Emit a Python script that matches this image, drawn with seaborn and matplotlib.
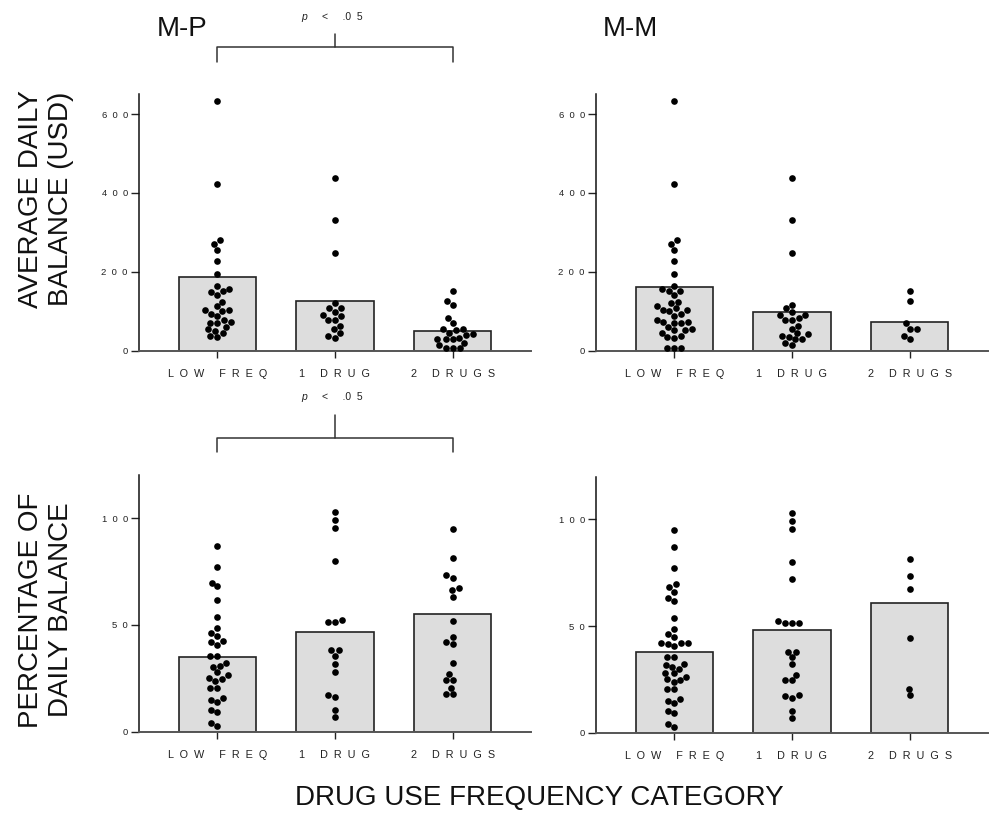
import matplotlib
matplotlib.use("Agg")
import matplotlib.pyplot as plt
from matplotlib.lines import Line2D
from matplotlib.transforms import offset_copy
import pandas as pd
import seaborn as sns

# categories on the x axis
categories = ["LOW FREQ", "1 DRUG", "2 DRUGS"]

# M-P, average daily balance (USD)
mp_bal_low = [632, 422, 281, 271, 256, 228, 195, 163, 156, 151, 149, 140, 124, 113,
              103, 101, 103, 94, 88, 79, 72, 71, 71, 61, 54, 51, 46, 38, 35]
mp_bal_one = [438, 331, 247, 121, 108, 108, 99, 89, 91, 79, 79, 62, 54, 45, 37, 33]
mp_bal_two = [151, 126, 116, 83, 70, 55, 52, 54, 45, 41, 39, 33, 30, 30, 30, 20, 14, 8, 8, 8]
mp_bal_bars = [187, 125, 49]

# M-M, average daily balance (USD)
mm_bal_low = [632, 422, 281, 271, 256, 228, 195, 163, 156, 151, 151, 140, 123, 120, 113,
              103, 100, 103, 107, 94, 88, 79, 72, 69, 71, 73, 60, 55, 52, 46, 52, 38,
              35, 33, 8, 8, 8]
mm_bal_one = [438, 331, 247, 116, 107, 99, 90, 84, 90, 79, 78, 62, 54, 45, 41, 37, 35,
              29, 30, 19, 14]
mm_bal_two = [151, 126, 69, 54, 54, 38, 29]
mm_bal_bars = [161, 97, 73]

# M-P, percentage of daily balance
mp_pct_low = [87.1, 77.1, 69.7, 68.0, 61.8, 53.8, 48.7, 46.0, 44.6, 42.3, 41.8, 40.6,
              35.6, 35.6, 32.1, 30.9, 30.3, 27.9, 26.4, 25.1, 24.6, 23.6, 20.6, 20.6,
              15.8, 14.8, 13.9, 10.0, 9.4, 4.2, 2.8]
mp_pct_one = [102.8, 99.1, 95.5, 79.7, 52.4, 51.5, 51.3, 38.2, 38.1, 35.6, 31.7, 27.8,
              17.2, 16.4, 10.1, 6.9]
mp_pct_two = [94.9, 81.3, 73.3, 72.1, 67.1, 66.3, 63.2, 51.6, 44.5, 41.8, 41.0, 32.3,
              27.0, 24.3, 24.3, 20.6, 17.6, 17.6]
mp_pct_bars = [34.8, 46.8, 55.1]

# M-M, percentage of daily balance
mm_pct_low = [95.0, 86.9, 77.1, 69.7, 68.2, 66.0, 63.3, 61.9, 54.0, 48.8, 46.2, 44.8,
              42.3, 42.0, 41.5, 40.7, 42.0, 35.7, 35.7, 32.3, 31.8, 30.9, 30.1, 28.1,
              27.9, 26.4, 24.8, 25.1, 23.7, 20.6, 20.6, 15.9, 15.0, 14.0, 10.3, 9.4,
              4.2, 3.0]
mm_pct_one = [102.8, 99.1, 95.5, 79.9, 72.2, 52.4, 51.6, 51.6, 51.6, 38.1, 38.1, 35.7,
              32.4, 27.0, 24.6, 24.6, 17.2, 16.5, 17.6, 10.3, 6.9]
mm_pct_two = [81.4, 73.5, 67.2, 44.5, 20.7, 17.6]
mm_pct_bars = [37.9, 48.4, 60.7]

bal_ticks = [0, 200, 400, 600]
pct_ticks = [0, 50, 100]

sns.set_style("ticks")
plt.rcParams["font.family"] = ["Liberation Sans", "DejaVu Sans"]


def spaced(s):
    # wide letter spacing like the original figure
    return "  ".join(s)


def panel(ax, low, one, two, bars, top, ticks):
    df = pd.DataFrame({
        "cat": [categories[0]] * len(low) + [categories[1]] * len(one) + [categories[2]] * len(two),
        "val": low + one + two,
    })
    sns.barplot(x=categories, y=bars, order=categories, color="#dddddd", saturation=1,
                edgecolor="#222222", linewidth=1.2, width=0.66, ax=ax)
    sns.swarmplot(data=df, x="cat", y="val", order=categories, color="black",
                  size=4.8, ax=ax)
    ax.set_xlim(-0.667, 2.667)
    ax.set_ylim(0, top)
    ax.set_yticks(ticks)
    ax.set_yticklabels([spaced(str(t)) for t in ticks], fontsize=6.8, color="#222222")
    ax.set_xticks(range(3))
    ax.set_xticklabels([spaced(c) for c in categories], fontsize=7.8, color="#222222")
    ax.tick_params(axis="y", length=6, width=1, pad=2, color="#222222")
    ax.tick_params(axis="x", length=5, width=1, pad=8, color="#222222")
    ax.set_xlabel("")
    ax.set_ylabel("")
    sns.despine(ax=ax)
    ax.spines["left"].set_color("#111111")
    ax.spines["left"].set_linewidth(1.1)
    ax.spines["bottom"].set_color("#555555")
    ax.spines["bottom"].set_linewidth(1.4)


def bracket(ax, y_bar, y_leg, y_stem, y_text):
    tr = ax.get_xaxis_transform()
    kw = dict(transform=tr, color="#333333", lw=1.1, clip_on=False)
    ax.add_line(Line2D([0, 0, 2, 2], [y_leg, y_bar, y_bar, y_leg], **kw))
    ax.add_line(Line2D([1, 1], [y_bar, y_stem], **kw))
    ax.text(1, y_text, "p", style="italic", fontsize=7.5, color="#222222",
            transform=offset_copy(tr, fig=ax.figure, x=-31, y=0, units="dots"),
            ha="center", va="center")
    ax.text(1, y_text, "<     .0  5", fontsize=7.5, color="#222222",
            transform=offset_copy(tr, fig=ax.figure, x=7, y=0, units="dots"),
            ha="center", va="center")


fig = plt.figure(figsize=(9.89, 8.22), dpi=100)
ax_tl = fig.add_axes([0.1405, 0.5734, 0.3964, 0.3119])
ax_tr = fig.add_axes([0.6026, 0.5734, 0.3964, 0.3119])
ax_bl = fig.add_axes([0.1405, 0.1099, 0.3964, 0.3119])
ax_br = fig.add_axes([0.6026, 0.1083, 0.3964, 0.3119])

panel(ax_tl, mp_bal_low, mp_bal_one, mp_bal_two, mp_bal_bars, 650, bal_ticks)
panel(ax_tr, mm_bal_low, mm_bal_one, mm_bal_two, mm_bal_bars, 650, bal_ticks)
panel(ax_bl, mp_pct_low, mp_pct_one, mp_pct_two, mp_pct_bars, 120, pct_ticks)
panel(ax_br, mm_pct_low, mm_pct_one, mm_pct_two, mm_pct_bars, 120, pct_ticks)

bracket(ax_tl, 1.1845, 1.126, 1.235, 1.303)
bracket(ax_bl, 1.1467, 1.091, 1.2348, 1.304)

fig.text(157 / 989, 1 - 29 / 822, "M-P", fontsize=20, va="center", ha="left", color="#111111")
fig.text(603 / 989, 1 - 29 / 822, "M-M", fontsize=20, va="center", ha="left", color="#111111")

fig.text(46 / 989, 1 - 199 / 822, "AVERAGE DAILY\nBALANCE (USD)", fontsize=20,
         rotation=90, ha="center", va="center", linespacing=1.15, color="#111111")
fig.text(46 / 989, 1 - 610 / 822, "PERCENTAGE OF\nDAILY BALANCE", fontsize=20,
         rotation=90, ha="center", va="center", linespacing=1.15, color="#111111")
fig.text(539 / 989, 1 - 798 / 822, "DRUG USE FREQUENCY CATEGORY", fontsize=20,
         ha="center", va="center", color="#111111")

fig.savefig("out.png", dpi=100)
